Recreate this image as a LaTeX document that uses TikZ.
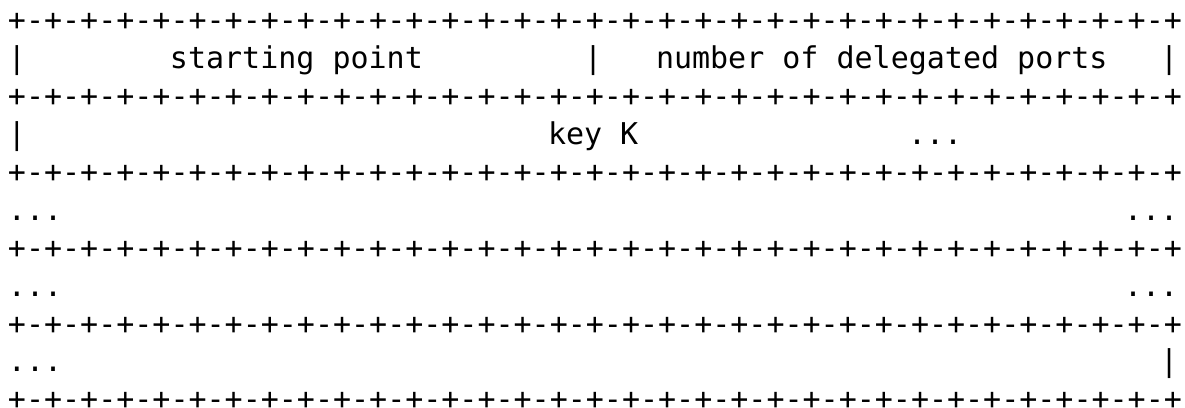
\documentclass[tikz,border=0pt]{standalone}
\usepackage{fontspec}
\newfontfamily\asciifont{DejaVu Sans Mono}
\usetikzlibrary{positioning}
\tikzset{
    ascii/.style={
        anchor=base west,
        inner sep=0pt,
        outer sep=0pt,
        font=\asciifont\fontsize{15}{15}\selectfont
    }
}
\newcommand{\borderrow}{+-+-+-+-+-+-+-+-+-+-+-+-+-+-+-+-+-+-+-+-+-+-+-+-+-+-+-+-+-+-+-+-+}

\begin{document}
\begin{tikzpicture}[x=9pt, y=-18.95pt]
    \useasboundingbox (-0.444,-0.813) rectangle (65.389,9.952);
    % Borders
    \foreach \r in {0,2,4,6,8,10}
        \node[ascii] (border\r) at (0,\r) {\borderrow};

    % Row 1
    \node[ascii] (barA) at (0,1) {|};
    \node[ascii] (start) at (9,1) {starting point};
    \node[ascii] (barB) at (32,1) {|};
    \node[ascii] (ports) at (36,1) {number of delegated ports};
    \node[ascii] (barC) at (64,1) {|};

    % Row 3
    \node[ascii] (barD) at (0,3) {|};
    \node[ascii] (key) at (30,3) {key K};
    \node[ascii] (dotsA) at (50,3) {...};

    % Rows 5, 7, 9
    \node[ascii] (dotsB) at (0,5) {...};
    \node[ascii] (dotsC) at (62,5) {...};
    \node[ascii] (dotsD) at (0,7) {...};
    \node[ascii] (dotsE) at (62,7) {...};
    \node[ascii] (dotsF) at (0,9) {...};
    \node[ascii] (barE) at (64,9) {|};
\end{tikzpicture}
\end{document}
